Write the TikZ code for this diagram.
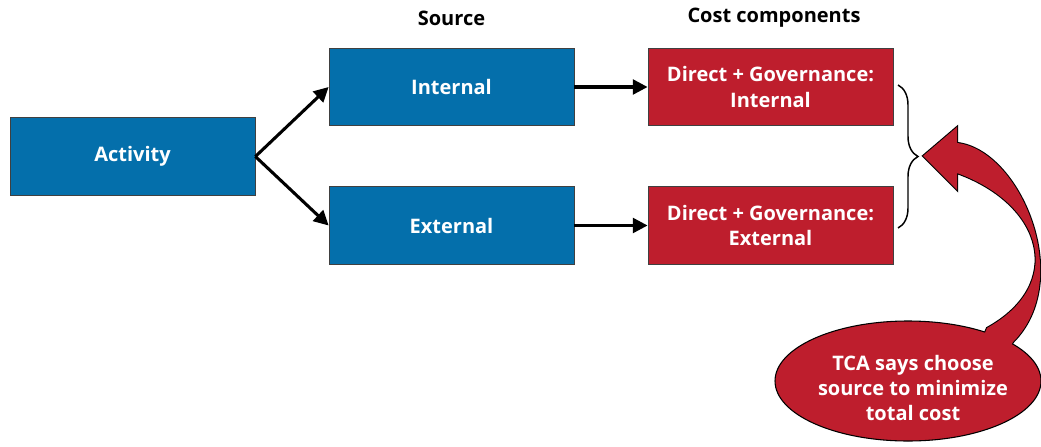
\documentclass[tikz,border=0pt]{standalone}
\usepackage{fontspec}
\setsansfont{Open Sans}
\usetikzlibrary{arrows.meta,decorations.pathreplacing,shapes.geometric}
\definecolor{srcblue}{RGB}{4,111,171}
\definecolor{costred}{RGB}{190,30,45}

\begin{document}
\begin{tikzpicture}[x=0.75pt,y=-0.75pt,line width=0.6pt,
	box/.style={draw=black!75,minimum width=183.75pt,minimum height=58pt,inner sep=0pt,
		text=white,align=center,font=\sffamily\bfseries\fontsize{15}{18.8}\selectfont},
	srcbox/.style={box,fill=srcblue},
	costbox/.style={box,fill=costred},
	head/.style={font=\sffamily\bfseries\fontsize{15}{18}\selectfont},
	link/.style={line width=2.3pt,-{Triangle[length=11pt,width=11pt]}}]
	\useasboundingbox (0,0) rectangle (1041,446);
	% column heads
	\node[head] (srchead) at (451.5,18) {Source};
	\node[head] (costhead) at (774,18) {Cost components};
	% boxes
	\node[srcbox] (activity) at (132.5,156.5) {Activity};
	\node[srcbox] (internal) at (451.5,87) {Internal};
	\node[srcbox] (external) at (451.5,225.5) {External};
	\node[costbox] (costint) at (770.5,87) {Direct + Governance:\\Internal};
	\node[costbox] (costext) at (770.5,225.5) {Direct + Governance:\\External};
	\draw[link] (activity.east) -- (internal.west);
	\draw[link] (activity.east) -- (external.west);
	\draw[link] (internal) -- (costint);
	\draw[link] (external) -- (costext);
	% brace round the two cost boxes
	\draw[line width=1.1pt,decorate,decoration={brace,amplitude=15pt}]
		(898,85) -- (898,228);
	% curved callout arrow: outline first, ellipse, then fill over the seam
	\draw[line width=1.6pt] (980,345) -- (987,328) .. controls (1065,285) and (1045,205) .. (957,173)
		-- (957,190) -- (923,156) -- (957,127) -- (957,143)
		.. controls (1020,150) and (1075,280) .. (1013,342) -- (1005,355) -- cycle;
	\node[ellipse,draw,line width=0.8pt,fill=costred,minimum width=199.5pt,minimum height=90pt,
		inner sep=0pt] (tca) at (908,381) {};
	\fill[costred] (980,345) -- (987,328) .. controls (1065,285) and (1045,205) .. (957,173)
		-- (957,190) -- (923,156) -- (957,127) -- (957,143)
		.. controls (1020,150) and (1075,280) .. (1013,342) -- (1005,355) -- cycle;
	\node[text=white,align=center,font=\sffamily\bfseries\fontsize{15}{18.6}\selectfont]
		(tcatext) at (913,388) {TCA says choose\\source to minimize\\total cost};
\end{tikzpicture}
\end{document}
